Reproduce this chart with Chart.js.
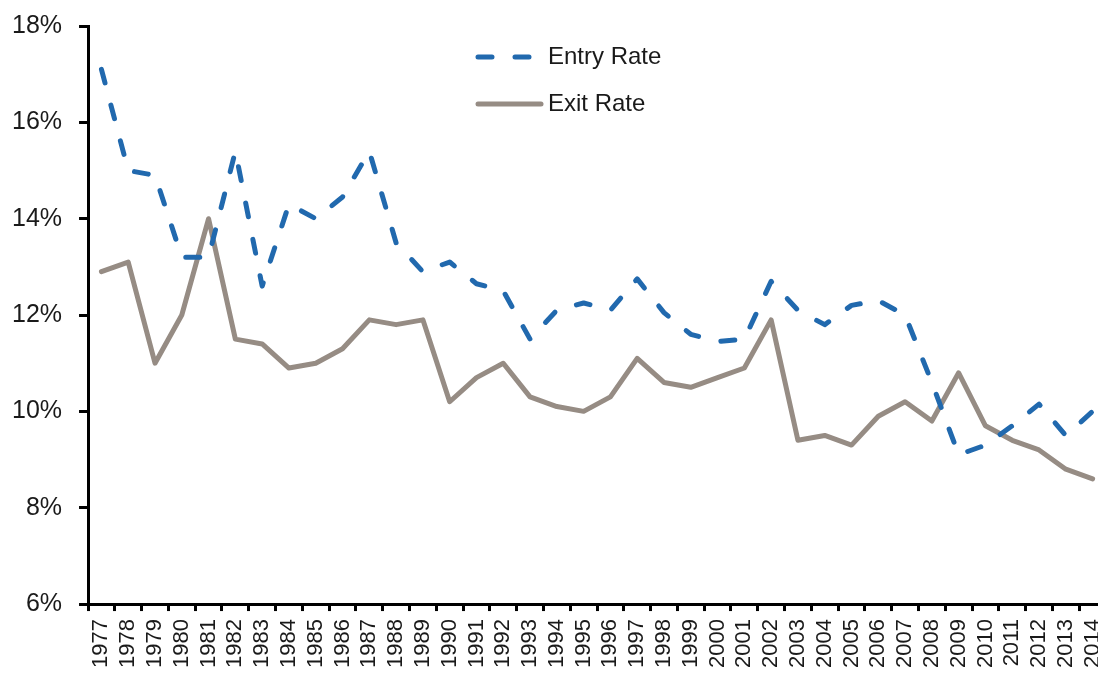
<!DOCTYPE html>
<html>
<head>
<meta charset="utf-8">
<script src="https://cdn.jsdelivr.net/npm/chart.js@4"></script>
<style>
  html, body { margin: 0; padding: 0; background: #fff; overflow: hidden; }
  #wrap { width: 1098px; height: 673px; overflow: hidden; position: relative; }
  canvas { display: block; position: absolute; left: -11px; top: -6px; }
</style>
</head>
<body>
<div id="wrap"><canvas id="rateChart" width="1138" height="679"></canvas></div>
<script>
// data
const years = ["1977","1978","1979","1980","1981","1982","1983","1984","1985","1986",
  "1987","1988","1989","1990","1991","1992","1993","1994","1995","1996","1997","1998",
  "1999","2000","2001","2002","2003","2004","2005","2006","2007","2008","2009","2010",
  "2011","2012","2013","2014"];

const entryRate = [17.1, 15.0, 14.9, 13.2, 13.2, 15.4, 12.6, 14.3, 14.0, 14.45,
  15.4, 13.5, 12.9, 13.1, 12.65, 12.5, 11.5, 12.1, 12.25, 12.1, 12.75, 12.05,
  11.6, 11.45, 11.5, 12.7, 12.1, 11.8, 12.2, 12.3, 12.0, 10.6, 9.1, 9.3,
  9.7, 10.15, 9.5, 10.0];

const exitRate = [12.9, 13.1, 11.0, 12.0, 14.0, 11.5, 11.4, 10.9, 11.0, 11.3,
  11.9, 11.8, 11.9, 10.2, 10.7, 11.0, 10.3, 10.1, 10.0, 10.3, 11.1, 10.6,
  10.5, 10.7, 10.9, 11.9, 9.4, 9.5, 9.3, 9.9, 10.2, 9.8, 10.8, 9.7,
  9.4, 9.2, 8.8, 8.6];

const yTicks = [6, 8, 10, 12, 14, 16, 18];

const entryColor = "#2169ae";
const exitColor = "#968c84";
const fontFamily = "'Liberation Sans', Arial, sans-serif";

// canvas sits 11px left of and 6px above the page edge
const shiftX = 11;
const shiftY = 6;

// legend drawn at a fixed spot inside the plot
const legendPlugin = {
  id: "fixedLegend",
  afterDraw(chart) {
    const c = chart.ctx;
    c.save();
    c.lineCap = "round";
    c.lineWidth = 5;

    c.strokeStyle = entryColor;
    c.setLineDash([14, 23]);
    c.beginPath();
    c.moveTo(478 + shiftX, 57 + shiftY);
    c.lineTo(531 + shiftX, 57 + shiftY);
    c.stroke();

    c.strokeStyle = exitColor;
    c.setLineDash([]);
    c.beginPath();
    c.moveTo(478 + shiftX, 104 + shiftY);
    c.lineTo(541 + shiftX, 104 + shiftY);
    c.stroke();

    c.fillStyle = "#1a1a1a";
    c.font = "24px " + fontFamily;
    c.textBaseline = "middle";
    c.fillText(chart.data.datasets[0].label, 548 + shiftX, 57 + shiftY);
    c.fillText(chart.data.datasets[1].label, 548 + shiftX, 104 + shiftY);
    c.restore();
  }
};

const ctx = document.getElementById("rateChart").getContext("2d");

new Chart(ctx, {
  type: "line",
  data: {
    labels: years,
    datasets: [
      {
        label: "Entry Rate",
        data: entryRate,
        borderColor: entryColor,
        borderWidth: 5,
        borderDash: [14, 23],
        borderCapStyle: "round",
        borderJoinStyle: "round",
        pointRadius: 0,
        tension: 0,
        fill: false
      },
      {
        label: "Exit Rate",
        data: exitRate,
        borderColor: exitColor,
        borderWidth: 5,
        borderCapStyle: "round",
        borderJoinStyle: "round",
        pointRadius: 0,
        tension: 0,
        fill: false
      }
    ]
  },
  options: {
    responsive: false,
    animation: false,
    devicePixelRatio: 1,
    layout: { padding: { left: 6, top: 0, right: 0, bottom: -3 } },
    plugins: {
      legend: { display: false },
      tooltip: { enabled: false }
    },
    scales: {
      x: {
        offset: true,
        grid: {
          offset: true,
          drawOnChartArea: false,
          drawTicks: true,
          tickLength: 7,
          color: "#000",
          lineWidth: 3
        },
        border: { color: "#000", width: 3 },
        ticks: {
          color: "#1a1a1a",
          font: { family: fontFamily, size: 22 },
          minRotation: 90,
          maxRotation: 90,
          autoSkip: false,
          padding: 8
        }
      },
      y: {
        min: 6,
        max: 18,
        afterBuildTicks: axis => {
          axis.ticks = yTicks.map(v => ({ value: v }));
        },
        grid: {
          drawOnChartArea: false,
          drawTicks: true,
          tickLength: 9,
          color: "#000",
          lineWidth: 3
        },
        border: { color: "#000", width: 3 },
        ticks: {
          color: "#1a1a1a",
          font: { family: fontFamily, size: 25 },
          padding: 17,
          callback: v => v + "%"
        }
      }
    }
  },
  plugins: [legendPlugin]
});
</script>
</body>
</html>
